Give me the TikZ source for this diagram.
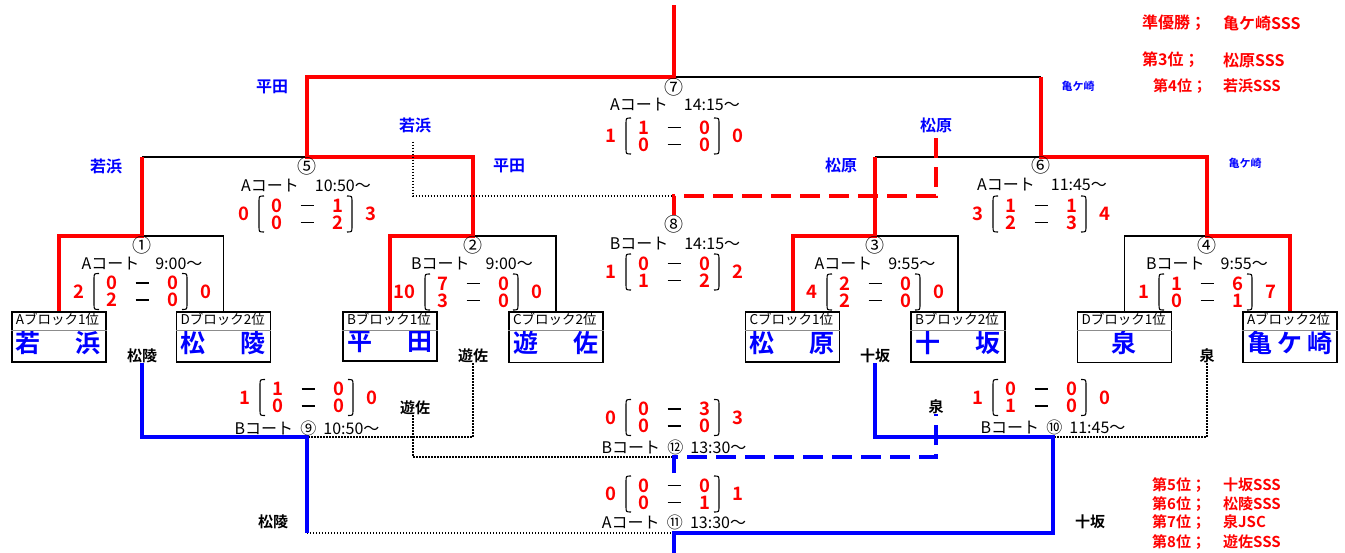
\documentclass[tikz,border=0pt]{standalone}
\usepackage{fontspec}
\setmainfont{Noto Sans CJK JP}[BoldFont={Noto Sans CJK JP Bold}]
\usetikzlibrary{shapes.multipart, calc}
\definecolor{wred}{RGB}{255,0,0}
\definecolor{wblue}{RGB}{0,0,255}
\newcommand{\fsz}[1]{\fontsize{#1}{#1}\selectfont}
\tikzset{
  lp/.style = {draw=black, line width=1.4pt},
  lv/.style = {draw=wred, line width=4pt},
  lb/.style = {draw=wblue, line width=4pt},
  ld/.style = {draw=black, line width=1.4pt, dash pattern=on 1.4pt off 1.6pt},
  lvd/.style = {lv, dash pattern=on 20pt off 9pt},
  lbd/.style = {lb, dash pattern=on 20pt off 9pt},
  team/.style = {rectangle split, rectangle split parts=2,
    rectangle split draw splits=false, draw=black, line width=1.8pt,
    inner xsep=4pt, inner ysep=0pt, text width=86pt, anchor=north},
  court/.style = {font=\fsz{16}, inner sep=0pt},
  num/.style = {font=\fsz{19}, inner sep=0pt},
  sc/.style = {text=wred, font=\bfseries\fsz{18.5}, inner sep=0pt},
  mn/.style = {draw=black, line width=1.3pt},
  nm/.style = {text=wblue, font=\bfseries\fsz{16}, inner sep=0pt},
  sm/.style = {text=wblue, font=\bfseries\fsz{11}, inner sep=0pt},
  lo/.style = {text=black, font=\bfseries\fsz{15}, inner sep=0pt},
  rk/.style = {text=wred, font=\bfseries\fsz{16}, inner sep=0pt, anchor=west},
  rks/.style = {rk, font=\bfseries\fsz{15}},
  paren/.style = {draw=black, line width=1.1pt}
}
% score: id, x, y, left total, a, b, c, d, right total
\newcommand{\score}[9]{%
  \node [sc, anchor=east] (#1l) at (#2-57,#3) {#4};
  \node [sc] (#1a) at (#2-30,#3-8.5) {#5};
  \node [sc] (#1b) at (#2+31,#3-8.5) {#6};
  \node [sc] (#1c) at (#2-30,#3+8.5) {#7};
  \node [sc] (#1d) at (#2+31,#3+8.5) {#8};
  \node [sc, anchor=west] (#1r) at (#2+58,#3) {#9};
  \draw [mn] (#2-6.5,#3-8.5) -- (#2+6.5,#3-8.5);
  \draw [mn] (#2-6.5,#3+8.5) -- (#2+6.5,#3+8.5);
  \draw [paren] (#2-43,#3-18) .. controls (#2-48,#3-18) .. (#2-48,#3-12)
    -- (#2-48,#3+12) .. controls (#2-48,#3+18) .. (#2-43,#3+18);
  \draw [paren] (#2+40,#3-18) .. controls (#2+45,#3-18) .. (#2+45,#3-12)
    -- (#2+45,#3+12) .. controls (#2+45,#3+18) .. (#2+40,#3+18);
}

\begin{document}
\begin{tikzpicture}[x=1pt, y=-1pt]
  \fill [white] (0,0) rectangle (1345,553);
  \useasboundingbox (0,0) rectangle (1345,553);

  % teams
  \foreach \n/\x/\b/\t in {t1/59/Aブロック1位/若\hfill 浜, t2/223.5/Dブロック2位/松\hfill 陵,
      t3/390/Bブロック1位/平\hfill 田, t4/556/Cブロック2位/遊\hfill 佐,
      t5/792.5/Cブロック1位/松\hfill 原, t6/958/Bブロック2位/十\hfill 坂,
      t7/1124.5/Dブロック1位/\hfill 泉\hfill, t8/1290/Aブロック2位/亀\hfill ケ\hfill 崎} {
    \node [team] (\n) at (\x,311) {\fsz{13.5}\rule[-5pt]{0pt}{15pt}\b
      \nodepart{two}\color{wblue}\bfseries\fsz{25}\rule[-9pt]{0pt}{28pt}\makebox[85pt][s]{\t}};
    \draw [draw=black!45, line width=0.8pt] (\n.text split west) -- (\n.text split east);
  }

  % upper bracket
  \coordinate (m1) at (142,236);
  \coordinate (m2) at (473,236);
  \coordinate (m3) at (875,236);
  \coordinate (m4) at (1207,236);
  \coordinate (m5) at (307,157);
  \coordinate (m6) at (1041,157);
  \coordinate (m7) at (674,77);
  \coordinate (top) at (674,5);
  \draw [lp] (m1) -| (t2.north);
  \draw [lp] (m2) -| (t4.north);
  \draw [lp] (m3) -| (t6.north);
  \draw [lp] (t7.north) |- (m4);
  \draw [lp] (m1 |- m5) -- (m5);
  \draw [lp] (m3 |- m6) -- (m6);
  \draw [lp] (m7) -- (m6 |- m7);
  \draw [lv] (t1.north) |- (m1) -- (m1 |- m5);
  \draw [lv] (t3.north) |- (m2) |- (m5) -- (m5 |- m7) -- (m7) -- (top);
  \draw [lv] (t5.north) |- (m3) -- (m3 |- m6);
  \draw [lv] (t8.north) |- (m4) |- (m6) -- (m6 |- m7);

  % third place
  \node [nm] (w8) at (415,125) {若浜};
  \node [nm] (v8) at (936,125) {松原};
  \coordinate (m8) at (674,196);
  \coordinate (m8b) at (674,215);
  \draw [ld, shorten <=9pt] (w8.south -| 413,0) |- (m8);
  \draw [lvd] (m8b) -- (m8) -| (v8.south);

  % winners of the upper bracket
  \node [nm] (w7a) at (272,87) {平田};
  \node [sm] (w7b) at (1078,86) {亀ケ崎};
  \node [nm] (w5a) at (106,166) {若浜};
  \node [nm] (w5b) at (509,166) {平田};
  \node [nm] (w6a) at (841,165) {松原};
  \node [sm] (w6b) at (1245,163) {亀ケ崎};

  % matches
  \node [num] (n7) at (674,87) {⑦};
  \node [court] (c7) at (675,105) {Aコート　14:15～};
  \score{s7}{674}{136}{1}{1}{0}{0}{0}{0}
  \node [num] (n5) at (307,166) {⑤};
  \node [court] (c5) at (306,186) {Aコート　10:50～};
  \score{s5}{307}{214}{0}{0}{1}{0}{2}{3}
  \node [num] (n6) at (1041,165) {⑥};
  \node [court] (c6) at (1042,185) {Aコート　11:45～};
  \score{s6}{1041}{214}{3}{1}{1}{2}{3}{4}
  \node [num] (n8) at (674,224) {⑧};
  \node [court] (c8) at (675,244) {Bコート　14:15～};
  \score{s8}{674}{272}{1}{0}{0}{1}{2}{2}
  \node [num] (n1) at (142,245) {①};
  \node [court] (c1) at (142,264) {Aコート　9:00～};
  \score{s1}{142}{291.5}{2}{0}{0}{2}{0}{0}
  \node [num] (n2) at (473,245) {②};
  \node [court] (c2) at (472,264) {Bコート　9:00～};
  \score{s2}{473}{292}{10}{7}{0}{3}{0}{0}
  \node [num] (n3) at (875,245) {③};
  \node [court] (c3) at (875,264) {Aコート　9:55～};
  \score{s3}{875}{292}{4}{2}{0}{2}{0}{0}
  \node [num] (n4) at (1207,245) {④};
  \node [court] (c4) at (1207,264) {Bコート　9:55～};
  \score{s4}{1207}{292}{1}{1}{6}{0}{1}{7}

  % lower bracket
  \node [lo] (l1) at (142,356) {松陵};
  \node [lo] (l2) at (473,356) {遊佐};
  \node [lo] (l3) at (875,356) {十坂};
  \node [lo] (l4) at (1207,356) {泉};
  \coordinate (m9) at (307,437);
  \coordinate (m10) at (1053,437);
  \coordinate (m11) at (674,533);
  \coordinate (bot) at (674,556);
  \draw [ld] (l2.south) |- (m9);
  \draw [ld] (l4.south) |- (m10);
  \draw [ld] (m9 |- m11) -- (m11);
  \draw [lb] (l1.south) |- (m9) -- (m9 |- m11);
  \draw [lb] (l3.south) |- (m10) |- (m11) -- (bot);

  \node [lo] (w12) at (415,408) {遊佐};
  \node [lo] (v12) at (936,407) {泉};
  \coordinate (m12) at (674,457);
  \coordinate (m12b) at (674,473);
  \draw [ld] (w12.south -| 413,0) |- (m12);
  \draw [lbd] (m12b) -- (m12) -| (v12.south);
  \node [lo] (f11a) at (273,522) {松陵};
  \node [lo] (f11b) at (1090,522) {十坂};

  \score{s9}{308}{397.5}{1}{1}{0}{0}{0}{0}
  \node [court] (c9) at (307,428) {Bコート\hspace{0.45em}⑨\hspace{0.45em}10:50～};
  \score{s10}{1041}{397.5}{1}{0}{0}{1}{0}{0}
  \node [court] (c10) at (1053,427) {Bコート\hspace{0.45em}⑩\hspace{0.45em}11:45～};
  \score{s12}{674}{417.5}{0}{0}{3}{0}{0}{3}
  \node [court] (c12) at (674,447) {Bコート\hspace{0.45em}⑫\hspace{0.45em}13:30～};
  \score{s11}{674}{494}{0}{0}{0}{0}{1}{1}
  \node [court] (c11) at (674,522) {Aコート\hspace{0.45em}⑪\hspace{0.45em}13:30～};

  % ranking
  \node [rk] (r2a) at (1142,23) {準優勝；};
  \node [rk] (r2b) at (1223,23) {亀ケ崎SSS};
  \node [rk] (r3a) at (1142,60) {第3位；};
  \node [rk] (r3b) at (1223,60) {松原SSS};
  \node [rks] (r4a) at (1153,86) {第4位；};
  \node [rks] (r4b) at (1223,86) {若浜SSS};
  \foreach \k/\y/\t in {5/485/十坂SSS, 6/504/松陵SSS, 7/522/泉JSC, 8/542/遊佐SSS} {
    \node [rks] (r\k a) at (1152,\y) {第\k 位；};
    \node [rks] (r\k b) at (1223,\y) {\t};
  }
\end{tikzpicture}
\end{document}
